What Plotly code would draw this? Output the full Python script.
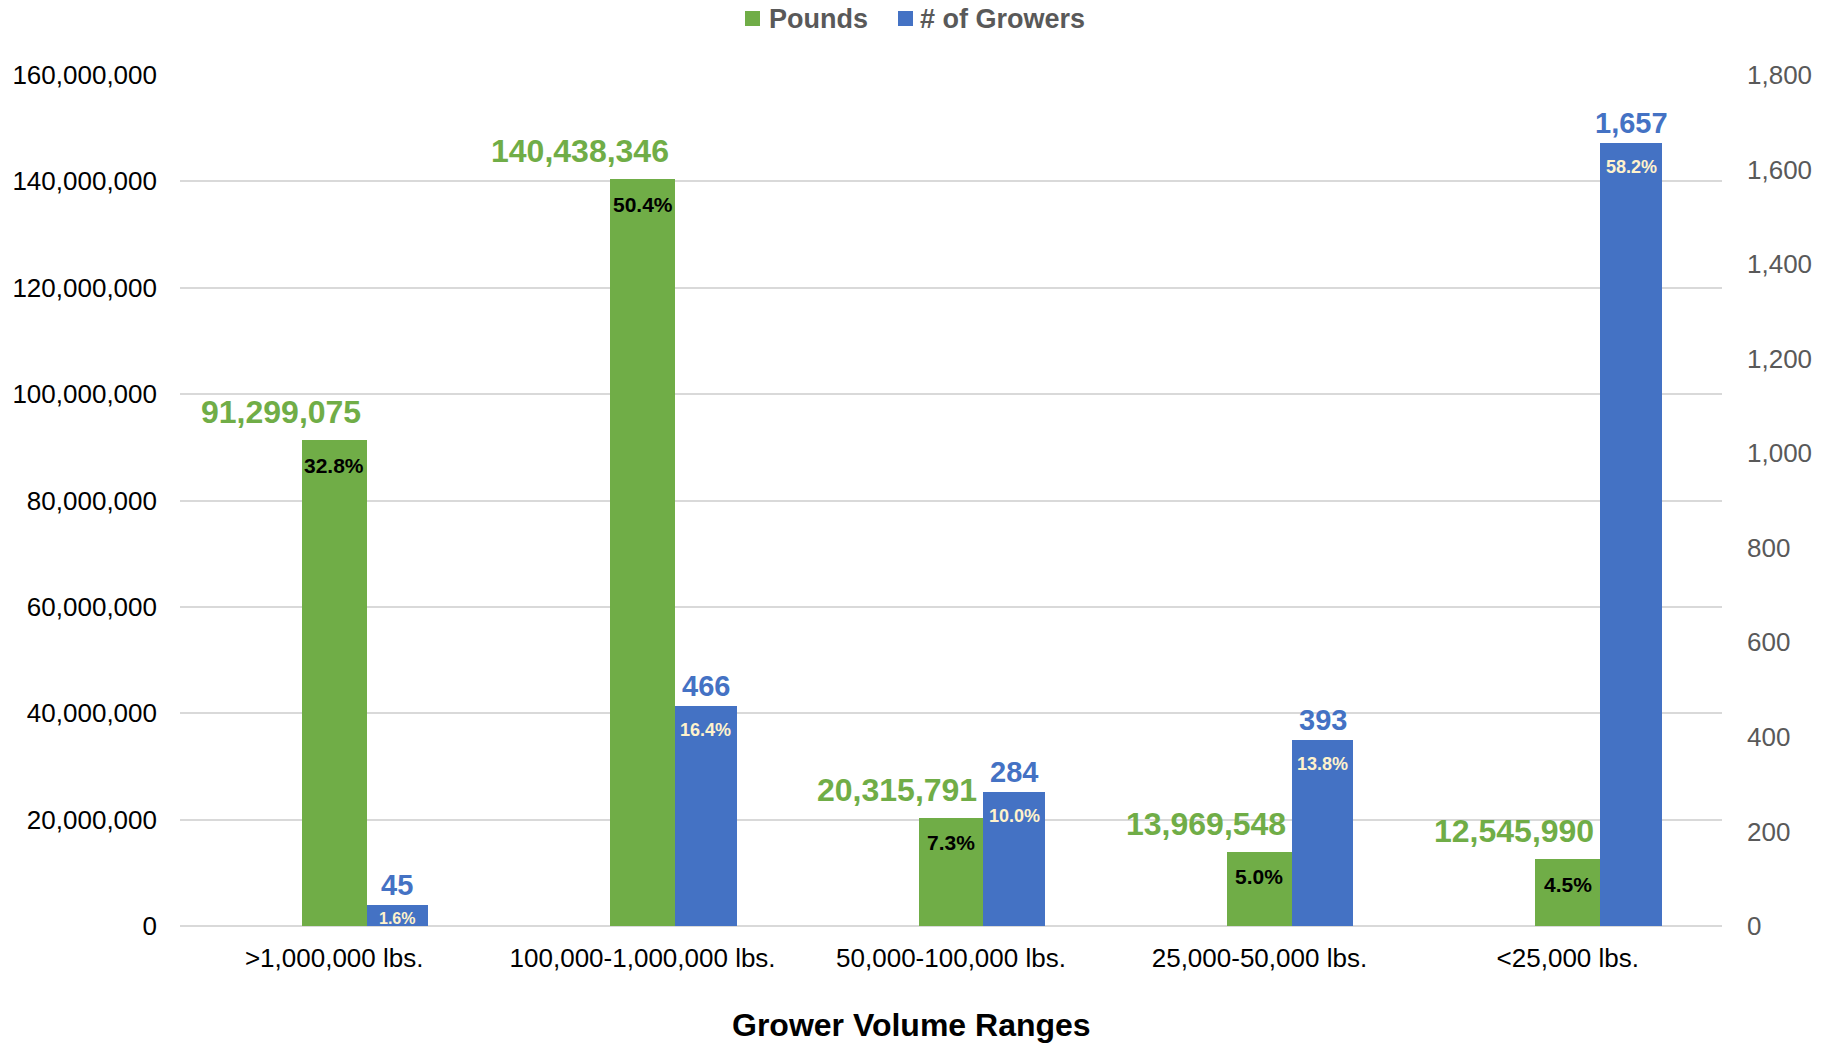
import plotly.graph_objects as go

# Grower volume ranges and totals per range
categories = [">1,000,000 lbs.", "100,000-1,000,000 lbs.", "50,000-100,000 lbs.",
              "25,000-50,000 lbs.", "<25,000 lbs."]
pounds = [91299075, 140438346, 20315791, 13969548, 12545990]
growers = [45, 466, 284, 393, 1657]
series_names = ["Pounds", "# of Growers"]

left_ticks = [0, 20000000, 40000000, 60000000, 80000000, 100000000, 120000000, 140000000, 160000000]
right_ticks = [0, 200, 400, 600, 800, 1000, 1200, 1400, 1600, 1800]

GREEN = "#70AD47"
BLUE = "#4472C4"
FONT = "Liberation Sans, Arial, sans-serif"

W, H = 1831, 1044
ML, MR, MT, MB = 180, 109, 75, 118
PW, PH = W - ML - MR, H - MT - MB


def px_to_paper(px, py):
    """Convert figure pixel coordinates to paper coordinates."""
    return (px - ML) / PW, (H - MB - py) / PH


pounds_share = [v / sum(pounds) * 100 for v in pounds]
growers_share = [v / sum(growers) * 100 for v in growers]

xs = list(range(len(categories)))
w_green = 0.21
w_blue = 0.2
x_green = xs
x_blue = [i + w_green / 2 + w_blue / 2 for i in xs]

fig = go.Figure()
fig.add_trace(go.Bar(
    x=x_green, y=pounds, width=w_green, name=series_names[0],
    marker=dict(color=GREEN, line=dict(width=0)), yaxis="y", showlegend=False,
))
fig.add_trace(go.Bar(
    x=x_blue, y=growers, width=w_blue, name=series_names[1],
    marker=dict(color=BLUE, line=dict(width=0)), yaxis="y2", showlegend=False,
))

ann = []
for i in xs:
    # pounds total above green bar, right-aligned near bar edge
    ann.append(dict(x=x_green[i] + w_green / 2, y=pounds[i], xref="x", yref="y",
                    text=f"<b>{pounds[i]:,}</b>", showarrow=False,
                    xanchor="right", yanchor="middle", xshift=-4, yshift=28,
                    font=dict(size=32, color=GREEN, family=FONT)))
    # share inside green bar
    ann.append(dict(x=x_green[i], y=pounds[i], xref="x", yref="y",
                    text=f"<b>{pounds_share[i]:.1f}%</b>", showarrow=False,
                    xanchor="center", yanchor="middle", yshift=-25,
                    font=dict(size=21, color="#000000", family=FONT)))
    # grower count above blue bar
    ann.append(dict(x=x_blue[i], y=growers[i], xref="x", yref="y2",
                    text=f"<b>{growers[i]:,}</b>", showarrow=False,
                    xanchor="center", yanchor="middle", yshift=20,
                    font=dict(size=29, color=BLUE, family=FONT)))
    # share inside blue bar (smaller when the bar is short)
    small = growers[i] < 100
    ann.append(dict(x=x_blue[i], y=growers[i], xref="x", yref="y2",
                    text=f"<b>{growers_share[i]:.1f}%</b>", showarrow=False,
                    xanchor="center", yanchor="middle",
                    yshift=-14 if small else -24,
                    font=dict(size=16 if small else 18, color="#FFF2CC", family=FONT)))

# legend drawn as swatches + labels across the top
shapes = []
legend_items = [(series_names[0], GREEN, 745, 767), (series_names[1], BLUE, 898, 918)]
for name, color, sx, tx in legend_items:
    x0, y0 = px_to_paper(sx, 26)
    x1, y1 = px_to_paper(sx + 15, 11)
    shapes.append(dict(type="rect", xref="paper", yref="paper", x0=x0, y0=y0, x1=x1, y1=y1,
                       fillcolor=color, line=dict(width=0)))
    lx, ly = px_to_paper(tx, 19)
    ann.append(dict(x=lx, y=ly, xref="paper", yref="paper", text=f"<b>{name}</b>",
                    showarrow=False, xanchor="left", yanchor="middle",
                    font=dict(size=27, color="#595959", family=FONT)))

# x-axis title, centred on the figure
tx, ty = px_to_paper(W / 2 - 4, 1025)
ann.append(dict(x=tx, y=ty, xref="paper", yref="paper", text="<b>Grower Volume Ranges</b>",
                showarrow=False, xanchor="center", yanchor="middle",
                font=dict(size=32, color="#000000", family=FONT)))

fig.update_layout(
    width=W, height=H,
    margin=dict(l=ML, r=MR, t=MT, b=MB, pad=0, autoexpand=False),
    paper_bgcolor="white", plot_bgcolor="white",
    barmode="overlay", bargap=0,
    font=dict(family=FONT, color="#000000"),
    showlegend=False,
    xaxis=dict(
        range=[-0.5, len(categories) - 0.5],
        tickmode="array", tickvals=xs, ticktext=categories,
        tickfont=dict(size=26, color="#000000", family=FONT),
        showgrid=False, zeroline=False, showline=False, ticks="",
        ticklabelstandoff=14,
    ),
    yaxis=dict(
        range=[0, 160000000],
        tickmode="array", tickvals=left_ticks,
        ticktext=[f"{v:,}" for v in left_ticks],
        tickfont=dict(size=26, color="#000000", family=FONT),
        showgrid=True, gridcolor="#D9D9D9", gridwidth=1.5,
        zeroline=True, zerolinecolor="#D9D9D9", zerolinewidth=2,
        showline=False, ticks="", ticklabelstandoff=22,
    ),
    yaxis2=dict(
        range=[0, 1800], overlaying="y", side="right",
        tickmode="array", tickvals=right_ticks,
        ticktext=[f"{v:,}" for v in right_ticks],
        tickfont=dict(size=26, color="#595959", family=FONT),
        showgrid=False, zeroline=False, showline=False, ticks="",
        ticklabelstandoff=24,
    ),
    shapes=shapes,
    annotations=ann,
)

fig.write_html("out.html")
